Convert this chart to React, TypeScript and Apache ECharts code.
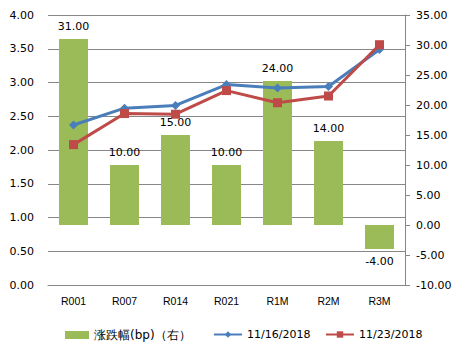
import React, { useEffect, useRef } from "react";
import * as echarts from "echarts";

const categories = ["R001", "R007", "R014", "R021", "R1M", "R2M", "R3M"];
const changeBp = [31, 10, 15, 10, 24, 14, -4];
const rate1116 = [2.37, 2.62, 2.66, 2.97, 2.92, 2.94, 3.49];
const rate1123 = [2.08, 2.54, 2.53, 2.88, 2.7, 2.8, 3.56];
const seriesNames = ["涨跌幅(bp)（右）", "11/16/2018", "11/23/2018"];

const FONT = "DejaVu Sans";

export default function App() {
  const ref = useRef<HTMLDivElement>(null);
  useEffect(() => {
    if (!ref.current) return;
    const chart = echarts.init(ref.current, undefined, { renderer: "svg" });
    const legendBase = {
      top: 324,
      itemHeight: 8,
      textStyle: { fontFamily: FONT, fontSize: 11, color: "#000" },
    };
    chart.setOption({
      animation: false,
      backgroundColor: "#ffffff",
      grid: { left: 48, right: 58, top: 15, bottom: 66, containLabel: false },
      legend: [
        {
          ...legendBase,
          left: 60,
          itemWidth: 24,
          textStyle: { fontFamily: FONT, fontSize: 12, color: "#000" },
          data: [{ name: seriesNames[0], icon: "rect" }],
        },
        { ...legendBase, left: 208, itemWidth: 28, data: [{ name: seriesNames[1] }] },
        { ...legendBase, left: 320, itemWidth: 28, data: [{ name: seriesNames[2] }] },
      ],
      xAxis: {
        type: "category",
        data: categories,
        axisLine: { show: true, lineStyle: { color: "#878787", width: 1 } },
        axisTick: { show: false },
        axisLabel: {
          margin: 10,
          fontFamily: "Liberation Sans",
          fontSize: 10.5,
          color: "#000",
        },
      },
      yAxis: [
        {
          type: "value",
          min: 0,
          max: 4,
          interval: 0.5,
          position: "left",
          axisLine: { show: false },
          axisTick: { show: false },
          splitLine: { show: true, lineStyle: { color: "#878787", width: 1 } },
          axisLabel: {
            margin: 14,
            fontFamily: FONT,
            fontSize: 11,
            color: "#000",
            formatter: (v: number) => v.toFixed(2),
          },
        },
        {
          type: "value",
          min: -10,
          max: 35,
          interval: 5,
          position: "right",
          axisLine: { show: true, lineStyle: { color: "#878787", width: 1 } },
          axisTick: { show: true, length: 5, lineStyle: { color: "#878787" } },
          splitLine: { show: false },
          axisLabel: {
            margin: 11,
            fontFamily: FONT,
            fontSize: 11,
            color: "#000",
            formatter: (v: number) => v.toFixed(2),
          },
        },
      ],
      series: [
        {
          name: seriesNames[0],
          type: "bar",
          yAxisIndex: 1,
          barWidth: 29,
          itemStyle: { color: "#9BBB59" },
          data: changeBp.map((v) => ({
            value: v,
            label: { position: v < 0 ? "bottom" : "top" },
          })),
          label: {
            show: true,
            distance: 7,
            fontFamily: FONT,
            fontSize: 11,
            color: "#000",
            formatter: (p: any) => Number(p.value).toFixed(2),
          },
          z: 1,
        },
        {
          name: seriesNames[1],
          type: "line",
          yAxisIndex: 0,
          data: rate1116,
          symbol: "diamond",
          symbolSize: 9,
          lineStyle: { color: "#4A7EBB", width: 3 },
          itemStyle: { color: "#4A7EBB" },
          z: 3,
        },
        {
          name: seriesNames[2],
          type: "line",
          yAxisIndex: 0,
          data: rate1123,
          symbol: "rect",
          symbolSize: 9,
          lineStyle: { color: "#BE4B48", width: 3 },
          itemStyle: { color: "#BE4B48" },
          z: 4,
        },
      ],
    });
    return () => chart.dispose();
  }, []);
  return <div ref={ref} style={{ width: 463, height: 351, position: "absolute", left: 0, top: 0 }} />;
}
